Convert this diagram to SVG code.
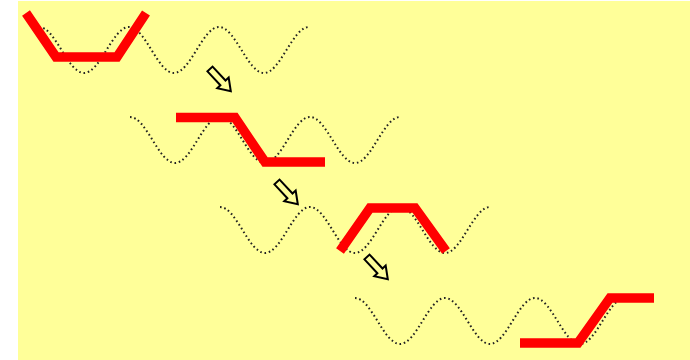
<svg xmlns="http://www.w3.org/2000/svg" xmlns:xlink="http://www.w3.org/1999/xlink" width="690" height="360" viewBox="0 0 690 360">
<style>
.wave{fill:none;stroke:#222;stroke-width:2;stroke-dasharray:1.6 2.8}
.red{fill:none;stroke:#FF0000;stroke-width:9.5;stroke-linejoin:miter;stroke-linecap:butt}
.arr{fill:#FFFF99;stroke:#000;stroke-width:2;stroke-linejoin:miter}
</style>
<defs>
<path id="w" d="M0 0c16.4 0 28.6 46 45 46s28.6 -46 45 -46s28.6 46 45 46s28.6 -46 45 -46s28.6 46 45 46s28.6 -46 45 -46"/>
<polygon id="a" points="0,-3.5 19,-3.5 19,-7.8 30.5,0 19,7.8 19,3.5 0,3.5"/>
</defs>
<rect x="18" y="1" width="672" height="359" fill="#FFFF99"/>
<g id="step1">
<use xlink:href="#w" class="wave" transform="translate(39 27)"/>
<polyline class="red" points="26,13 56,57 117,57 146,13"/>
</g>
<g id="step2">
<use xlink:href="#w" class="wave" transform="translate(130 117)"/>
<polyline class="red" points="176,117.5 235,117.5 265,162 325,162"/>
</g>
<g id="step3">
<use xlink:href="#w" class="wave" transform="translate(220 207)"/>
<polyline class="red" points="340,251 370,208 415,208 446,251"/>
</g>
<g id="step4">
<use xlink:href="#w" class="wave" transform="translate(355 298)"/>
<polyline class="red" points="520,343 578,343 610,298 654,298"/>
</g>
<g id="connectors">
<use xlink:href="#a" class="arr" transform="translate(210 69) rotate(47)"/>
<use xlink:href="#a" class="arr" transform="translate(277 182) rotate(47)"/>
<use xlink:href="#a" class="arr" transform="translate(367 257) rotate(47)"/>
</g>
</svg>
